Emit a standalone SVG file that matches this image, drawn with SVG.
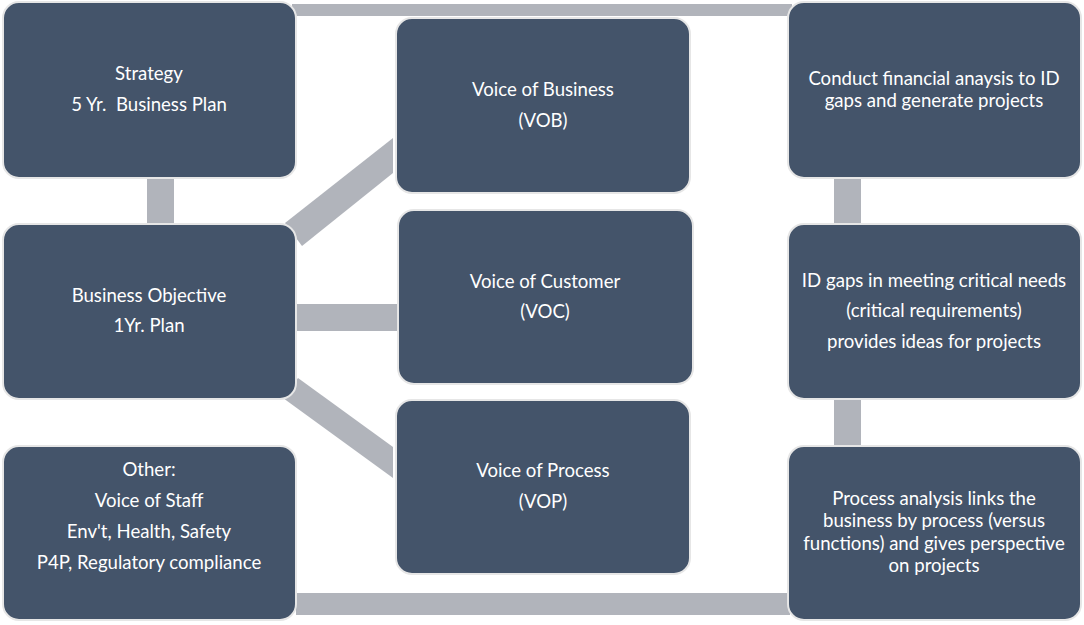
<svg xmlns="http://www.w3.org/2000/svg" width="1084" height="625" viewBox="0 0 1084 625">
<style>
.box{fill:#44546a;stroke:#e6e6e6;stroke-width:2}
.t{fill:#ffffff;font-family:Lato,"Open Sans",sans-serif;font-size:18.6px;text-anchor:middle;white-space:pre}
.c{fill:#b1b4bb}
</style>
<rect width="1084" height="625" fill="#ffffff"/>
<g id="connectors">
<rect class="c" x="292" y="4" width="500" height="12"/>
<rect class="c" x="147" y="178" width="27" height="46"/>
<rect class="c" x="834" y="178" width="27" height="46"/>
<rect class="c" x="834" y="399" width="27" height="47"/>
<rect class="c" x="296" y="593" width="494" height="22"/>
<rect class="c" x="296" y="304" width="102" height="27"/>
<polygon class="c" points="285,223 393,138 393,173 302,246"/>
<polygon class="c" points="298,378 393,447 393,478 283,398"/>
</g>
<g id="strategy">
<rect class="box" x="3" y="2" width="293" height="176" rx="16"/>
<text class="t" x="149" y="80">Strategy</text>
<text class="t" x="149" y="111" xml:space="preserve">5 Yr.  Business Plan</text>
</g>
<g id="objective">
<rect class="box" x="3" y="224" width="293" height="175" rx="16"/>
<text class="t" x="149" y="302">Business Objective</text>
<text class="t" x="149" y="332">1Yr. Plan</text>
</g>
<g id="other">
<rect class="box" x="3" y="446" width="293" height="174" rx="16"/>
<text class="t" x="149" y="476">Other:</text>
<text class="t" x="149" y="507">Voice of Staff</text>
<text class="t" x="149" y="538">Env't, Health, Safety</text>
<text class="t" x="149" y="569">P4P, Regulatory compliance</text>
</g>
<g id="vob">
<rect class="box" x="396" y="18" width="294" height="175" rx="16"/>
<text class="t" x="543" y="96">Voice of Business</text>
<text class="t" x="543" y="127">(VOB)</text>
</g>
<g id="voc">
<rect class="box" x="398" y="210" width="295" height="174" rx="16"/>
<text class="t" x="545" y="288">Voice of Customer</text>
<text class="t" x="545" y="318">(VOC)</text>
</g>
<g id="vop">
<rect class="box" x="396" y="400" width="294" height="174" rx="16"/>
<text class="t" x="543" y="477">Voice of Process</text>
<text class="t" x="543" y="508">(VOP)</text>
</g>
<g id="financial">
<rect class="box" x="788" y="2" width="293" height="176" rx="16"/>
<text class="t" x="934" y="85">Conduct financial anaysis to ID</text>
<text class="t" x="934" y="107">gaps and generate projects</text>
</g>
<g id="gaps">
<rect class="box" x="788" y="224" width="293" height="175" rx="16"/>
<text class="t" x="934" y="287">ID gaps in meeting critical needs</text>
<text class="t" x="934" y="317">(critical requirements)</text>
<text class="t" x="934" y="348">provides ideas for projects</text>
</g>
<g id="process">
<rect class="box" x="788" y="446" width="293" height="174" rx="16"/>
<text class="t" x="934" y="505">Process analysis links the</text>
<text class="t" x="934" y="527">business by process (versus</text>
<text class="t" x="934" y="550">functions) and gives perspective</text>
<text class="t" x="934" y="572">on projects</text>
</g>
</svg>
